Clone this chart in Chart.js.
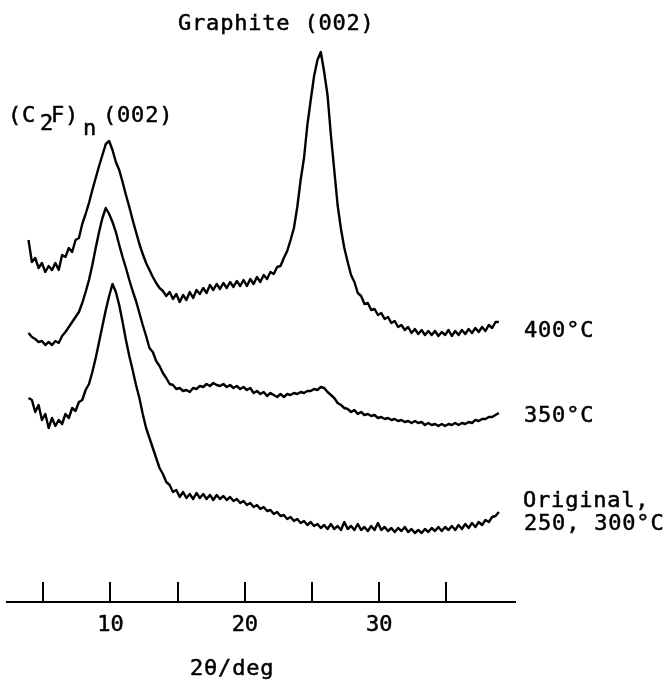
<!DOCTYPE html>
<html>
<head>
<meta charset="utf-8">
<script src="https://cdn.jsdelivr.net/npm/chart.js@4.4.1/dist/chart.umd.min.js"></script>
<style>
  html, body { margin: 0; padding: 0; background: #fff; }
  #wrap { width: 664px; height: 680px; }
</style>
</head>
<body>
<div id="wrap"><canvas id="c" width="664" height="680"></canvas></div>
<script>
// 2θ (deg) sampling positions
const angles = [
  3.9,4.15,4.4,4.65,4.9,5.15,5.4,5.65,5.9,6.15,
  6.4,6.65,6.9,7.15,7.4,7.65,7.9,8.15,8.4,8.65,
  8.9,9.15,9.4,9.65,9.9,10.15,10.4,10.65,10.9,11.15,
  11.4,11.65,11.9,12.15,12.4,12.65,12.9,13.15,13.4,13.65,
  13.9,14.15,14.4,14.65,14.9,15.15,15.4,15.65,15.9,16.15,
  16.4,16.65,16.9,17.15,17.4,17.65,17.9,18.15,18.4,18.65,
  18.9,19.15,19.4,19.65,19.9,20.15,20.4,20.65,20.9,21.15,
  21.4,21.65,21.9,22.15,22.4,22.65,22.9,23.15,23.4,23.65,
  23.9,24.15,24.4,24.65,24.9,25.15,25.4,25.65,25.9,26.15,
  26.4,26.65,26.9,27.15,27.4,27.65,27.9,28.15,28.4,28.65,
  28.9,29.15,29.4,29.65,29.9,30.15,30.4,30.65,30.9,31.15,
  31.4,31.65,31.9,32.15,32.4,32.65,32.9,33.15,33.4,33.65,
  33.9,34.15,34.4,34.65,34.9,35.15,35.4,35.65,35.9,36.15,
  36.4,36.65,36.9,37.15,37.4,37.65,37.9,38.15,38.4,38.65,
  38.9
];

// Intensities (arbitrary units, curves stacked with offsets)
const int400 = [
  362,340,344,334,339,330,336,332,339,332,
  347,345,354,350,362,364,378,388,399,412,
  424,436,447,458,461,452,440,432,420,407,
  395,382,370,358,348,339,332,325,319,314,
  311,306,310,303,308,300,307,302,310,304,
  312,308,314,309,317,312,318,313,319,314,
  320,315,321,316,322,316,323,318,325,320,
  327,323,330,328,335,336,344,351,362,374,
  395,422,444,477,502,526,542,550,530,507,
  467,432,397,373,354,340,327,320,309,306,
  298,299,292,293,287,289,283,285,279,281,
  275,277,272,275,269,273,268,272,267,271,
  267,271,266,270,267,272,266,271,267,272,
  268,273,269,274,270,275,271,277,274,280,
  280
];

const int350 = [
  269,265,263,260,261,257,260,257,261,259,
  266,270,275,280,285,290,299,310,322,337,
  354,370,384,394,388,380,370,357,345,334,
  322,311,301,289,277,266,254,250,241,236,
  229,224,218,217,213,214,211,212,210,214,
  213,216,215,218,216,219,217,216,218,215,
  217,214,216,213,215,212,214,209,211,208,
  210,206,209,207,205,208,205,208,207,209,
  208,210,209,211,211,213,212,215,214,210,
  207,204,199,197,194,193,190,192,188,190,
  187,188,186,187,184,185,183,184,182,183,
  181,182,180,181,179,181,179,180,177,179,
  177,178,176,178,176,178,177,179,177,179,
  178,180,179,182,181,183,183,185,185,187,
  189
];

const intOriginal = [
  204,202,190,197,182,188,174,184,176,182,
  178,188,184,194,191,200,202,212,218,230,
  244,260,276,292,306,318,310,297,280,262,
  246,232,217,204,188,174,164,154,144,134,
  128,120,117,110,112,105,110,104,108,103,
  109,104,108,103,107,102,107,103,106,102,
  105,101,103,99,101,97,99,95,97,93,
  95,91,92,88,90,86,87,83,85,81,
  83,79,81,77,80,76,78,74,77,73,
  78,73,76,72,80,73,76,72,78,72,
  75,71,76,72,79,72,75,71,74,70,
  74,71,75,70,73,69,72,69,73,70,
  74,71,75,71,75,72,76,72,77,73,
  78,74,79,75,80,77,82,80,85,86,
  90
];

const tickValues = [5, 10, 15, 20, 25, 30, 35];
const labeledTicks = [10, 20, 30];
const seriesNames = ['400°C', '350°C', 'Original, 250, 300°C'];

const FONT = 'DejaVu Sans Mono';
const INK = '#000';

function pts(arr) { return angles.map((a, i) => ({ x: a, y: arr[i] })); }

const lineStyle = {
  showLine: true, pointRadius: 0, borderColor: INK, borderWidth: 2.4,
  tension: 0, fill: false, borderJoinStyle: 'round'
};

// text annotations (labels only)
const annotations = {
  id: 'annotations',
  afterDraw(chart) {
    const ctx = chart.ctx;
    ctx.save();
    ctx.fillStyle = INK;
    ctx.strokeStyle = INK;
    ctx.lineWidth = 0.5;
    ctx.textBaseline = 'alphabetic';
    ctx.textAlign = 'left';
    ctx.font = '22px "' + FONT + '"';
    if ('letterSpacing' in ctx) ctx.letterSpacing = '0.8px';
    const put = (t, x, y) => { ctx.fillText(t, x, y); ctx.strokeText(t, x, y); };
    put('Graphite (002)', 178, 30);
    put('(C', 8, 122);
    put('2', 40, 130);
    put('F)', 51, 122);
    put('n', 83, 135);
    put('(002)', 103, 122);
    put('400°C', 524, 337);
    put('350°C', 524, 422);
    put('Original,', 523, 507);
    put('250, 300°C', 524, 530);
    put('2θ/deg', 190, 675);
    ctx.restore();
  }
};

new Chart(document.getElementById('c'), {
  type: 'scatter',
  data: {
    datasets: [
      Object.assign({ label: seriesNames[0], data: pts(int400) }, lineStyle),
      Object.assign({ label: seriesNames[1], data: pts(int350) }, lineStyle),
      Object.assign({ label: seriesNames[2], data: pts(intOriginal) }, lineStyle)
    ]
  },
  options: {
    responsive: false,
    animation: false,
    devicePixelRatio: 1,
    layout: { padding: { left: 7, right: 149, top: 0, bottom: 11.6 } },
    plugins: { legend: { display: false }, tooltip: { enabled: false } },
    scales: {
      x: {
        type: 'linear',
        position: 'bottom',
        min: 2.3,
        max: 40.1,
        afterBuildTicks: (s) => { s.ticks = tickValues.map(v => ({ value: v })); },
        border: { display: true, color: INK, width: 2 },
        grid: { display: true, drawOnChartArea: false, drawTicks: true, tickLength: -20, color: INK, lineWidth: 2 },
        ticks: {
          autoSkip: false, maxRotation: 0, padding: 30, color: INK,
          textStrokeColor: INK, textStrokeWidth: 0.5,
          font: { family: FONT, size: 22 },
          callback: (v) => labeledTicks.includes(v) ? String(v) : ''
        }
      },
      y: { display: false, min: 0, max: 602 }
    }
  },
  plugins: [annotations]
});
</script>
</body>
</html>
